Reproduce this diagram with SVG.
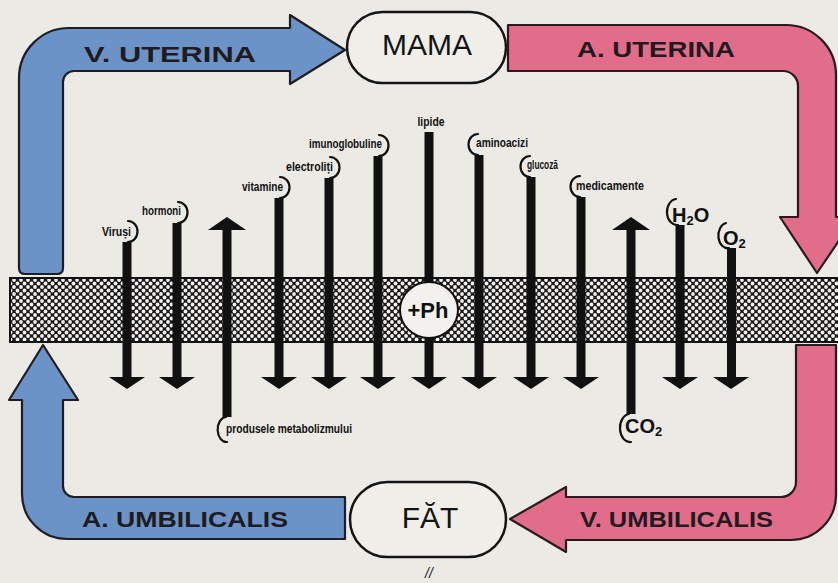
<svg xmlns="http://www.w3.org/2000/svg" width="838" height="583" viewBox="0 0 838 583">
<defs>
<pattern id="hatch" x="0" y="0" width="7" height="7" patternUnits="userSpaceOnUse">
<rect width="7" height="7" fill="#1c1a1b"/>
<circle cx="0" cy="0" r="1.9" fill="#f4f3ef"/>
<circle cx="7" cy="0" r="1.9" fill="#f4f3ef"/>
<circle cx="0" cy="7" r="1.9" fill="#f4f3ef"/>
<circle cx="7" cy="7" r="1.9" fill="#f4f3ef"/>
<circle cx="3.5" cy="3.5" r="1.9" fill="#f4f3ef"/>
</pattern>
<style>
.blue{fill:#6b93c7;stroke:#1f1d22;stroke-width:2.2;stroke-linejoin:round}
.red{fill:#e26d8b;stroke:#2a1a20;stroke-width:2.2;stroke-linejoin:round}
.big{font-family:"Liberation Sans",Arial,sans-serif;font-weight:bold;font-size:22px;fill:#1f1b1e}
.box{fill:#efeee9;stroke:#141414;stroke-width:2.5}
.boxt{font-family:"Liberation Sans",Arial,sans-serif;font-size:30px;fill:#141414;text-anchor:middle}
.stem{fill:#111}
.hook{fill:none;stroke:#111;stroke-width:2.2;stroke-linecap:round}
.lbl{font-family:"Liberation Sans Narrow","Liberation Sans",Arial,sans-serif;font-weight:bold;font-size:12px;fill:#111}
.chem{font-family:"Liberation Sans Narrow","Liberation Sans",Arial,sans-serif;font-weight:bold;font-size:20px;fill:#111}
.sub{font-size:13px}
</style>
</defs>
<rect x="0" y="0" width="838" height="583" fill="#ebeae5"/>

<g id="v-uterina">
<path class="blue" d="M19 268 L19 78 A50 50 0 0 1 69 28 L290 28 L290 15 L345 50 L290 84 L290 71 L74 71 A11 11 0 0 0 63 82 L63 268 Q63 274 57 274 L25 274 Q19 274 19 268 Z"/>
<text class="big" x="84" y="62" textLength="172" lengthAdjust="spacingAndGlyphs">V. UTERINA</text>
</g>
<g id="a-uterina">
<path class="red" d="M508 25 L786 25 A50 50 0 0 1 836 75 L836 217 L855 217 L817 273 L780 217 L798 217 L798 86 A15 15 0 0 0 783 71 L508 71 Z"/>
<text class="big" x="577" y="57" textLength="158" lengthAdjust="spacingAndGlyphs">A. UTERINA</text>
</g>
<g id="a-umbilicalis">
<path class="blue" d="M43 345 L78 400 L63 400 L63 486 A11 11 0 0 0 74 497 L345 497 L345 539 L67 539 A45 45 0 0 1 22 494 L22 400 L9 400 Z"/>
<text class="big" x="82" y="527" textLength="206" lengthAdjust="spacingAndGlyphs">A. UMBILICALIS</text>
</g>
<g id="v-umbilicalis">
<path class="red" d="M796 345 L836 345 L836 495 A45 45 0 0 1 791 540 L566 540 L566 552 L510 519 L566 487 L566 497 L781 497 A15 15 0 0 0 796 482 Z"/>
<text class="big" x="580" y="527" textLength="193" lengthAdjust="spacingAndGlyphs">V. UMBILICALIS</text>
</g>

<g id="mama">
<rect class="box" x="347" y="12" width="159" height="71" rx="35.5"/>
<text class="boxt" x="427" y="55">MAMA</text>
</g>
<g id="fat">
<rect class="box" x="350" y="482" width="156" height="75" rx="37.5"/>
<text class="boxt" x="430" y="528">FĂT</text>
<text x="429" y="578" font-family="Liberation Sans,Arial,sans-serif" font-style="italic" font-size="14" fill="#222" text-anchor="middle">//</text>
</g>

<g id="placenta">
<rect x="10" y="278" width="840" height="64" fill="url(#hatch)" stroke="#111" stroke-width="2"/>
</g>

<g id="connectors">
<g id="virusi">
<rect class="stem" x="122.5" y="242" width="9" height="136"/>
<polygon class="stem" points="109,377 145,377 127,389"/>
<path class="hook" d="M128 221 A9.5 10.5 0 0 1 128 242"/>
<text class="lbl" x="131" y="236" text-anchor="end" textLength="29" lengthAdjust="spacingAndGlyphs">Viruși</text>
</g>
<g id="hormoni">
<rect class="stem" x="172.5" y="223" width="9" height="155"/>
<polygon class="stem" points="159,377 195,377 177,389"/>
<path class="hook" d="M178 202 A9.5 10.5 0 0 1 178 223"/>
<text class="lbl" x="181" y="215" text-anchor="end" textLength="39" lengthAdjust="spacingAndGlyphs">hormoni</text>
</g>
<g id="vitamine">
<rect class="stem" x="274.5" y="198" width="9" height="180"/>
<polygon class="stem" points="261,377 297,377 279,389"/>
<path class="hook" d="M280 177 A9.5 10.5 0 0 1 280 198"/>
<text class="lbl" x="283" y="191" text-anchor="end" textLength="41" lengthAdjust="spacingAndGlyphs">vitamine</text>
</g>
<g id="electroliti">
<rect class="stem" x="324.5" y="178" width="9" height="200"/>
<polygon class="stem" points="311,377 347,377 329,389"/>
<path class="hook" d="M330 157 A9.5 10.5 0 0 1 330 178"/>
<text class="lbl" x="333" y="171" text-anchor="end" textLength="47" lengthAdjust="spacingAndGlyphs">electroliți</text>
</g>
<g id="imunoglobuline">
<rect class="stem" x="373.5" y="156" width="9" height="222"/>
<polygon class="stem" points="360,377 396,377 378,389"/>
<path class="hook" d="M379 135 A9.5 10.5 0 0 1 379 156"/>
<text class="lbl" x="382" y="148" text-anchor="end" textLength="73" lengthAdjust="spacingAndGlyphs">imunoglobuline</text>
</g>
<g id="lipide">
<rect class="stem" x="424.5" y="132" width="9" height="246"/>
<polygon class="stem" points="411,377 447,377 429,389"/>
<text class="lbl" x="431" y="126" text-anchor="middle" textLength="27" lengthAdjust="spacingAndGlyphs">lipide</text>
</g>
<g id="aminoacizi">
<rect class="stem" x="474.5" y="155" width="9" height="223"/>
<polygon class="stem" points="461,377 497,377 479,389"/>
<path class="hook" d="M478 134 A9.5 10.5 0 0 0 478 155"/>
<text class="lbl" x="476" y="147" textLength="52" lengthAdjust="spacingAndGlyphs">aminoacizi</text>
</g>
<g id="glucoza">
<rect class="stem" x="526.5" y="177" width="9" height="201"/>
<polygon class="stem" points="513,377 549,377 531,389"/>
<path class="hook" d="M530 156 A9.5 10.5 0 0 0 530 177"/>
<text class="lbl" x="527" y="169" textLength="31" lengthAdjust="spacingAndGlyphs">glucoză</text>
</g>
<g id="medicamente">
<rect class="stem" x="576.5" y="197" width="9" height="181"/>
<polygon class="stem" points="563,377 599,377 581,389"/>
<path class="hook" d="M580 176 A9.5 10.5 0 0 0 580 197"/>
<text class="lbl" x="576" y="190" textLength="68" lengthAdjust="spacingAndGlyphs">medicamente</text>
</g>
<g id="h2o">
<rect class="stem" x="675.5" y="225" width="9" height="153"/>
<polygon class="stem" points="662,377 698,377 680,389"/>
<path class="hook" d="M676 199 A10 13 0 0 0 678 225"/>
<text class="chem" x="672" y="222">H<tspan class="sub" dy="3">2</tspan><tspan dy="-3">O</tspan></text>
</g>
<g id="o2">
<rect class="stem" x="727" y="248" width="9" height="130"/>
<polygon class="stem" points="713,377 749,377 731,389"/>
<path class="hook" d="M726 223 A9 12.5 0 0 0 729 248"/>
<text class="chem" x="723" y="245">O<tspan class="sub" dy="3">2</tspan></text>
</g>
<g id="produsele">
<rect class="stem" x="222.5" y="229" width="9" height="188"/>
<polygon class="stem" points="208,230 246,230 227,217"/>
<path class="hook" d="M226 417 A8.5 12 0 0 0 227 442"/>
<text class="lbl" x="226" y="433" textLength="126" lengthAdjust="spacingAndGlyphs">produsele metabolizmului</text>
</g>
<g id="co2">
<rect class="stem" x="626.5" y="229" width="9" height="185"/>
<polygon class="stem" points="612,230 650,230 631,217"/>
<path class="hook" d="M629 414 A10 14 0 0 0 631 442"/>
<text class="chem" x="625" y="433">CO<tspan class="sub" dy="3">2</tspan></text>
</g>
</g>

<g id="ph">
<ellipse cx="429" cy="310" rx="29" ry="28" fill="#f2f1ed" stroke="#111" stroke-width="2"/>
<text x="428" y="318" font-family="Liberation Sans,Arial,sans-serif" font-weight="bold" font-size="22" fill="#111" text-anchor="middle">+Ph</text>
</g>
</svg>
